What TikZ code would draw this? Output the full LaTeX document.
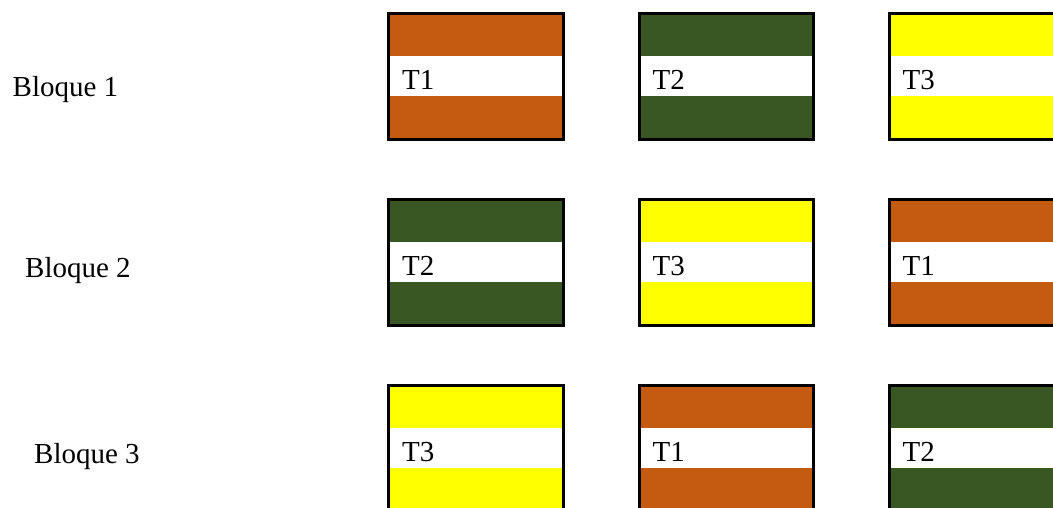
\documentclass[tikz,border=0pt]{standalone}
\usepackage{fontspec}
\setmainfont{Liberation Serif}
\definecolor{torange}{HTML}{C55A11}
\definecolor{tgreen}{HTML}{385723}
\definecolor{tyellow}{HTML}{FFFF00}
\tikzset{
  lbl/.style={anchor=base west, inner sep=0pt, font=\fontsize{29}{34}\selectfont},
  border/.style={draw=black, line width=3pt},
}
\newcommand{\tbox}[5]{%
  % #1 name, #2 left, #3 top, #4 colour, #5 label
  \fill[#4] (#2+1.5,#3+1.5) rectangle (#2+176,#3+127.5);
  \fill[white] (#2+3,#3+43.4) rectangle (#2+174.5,#3+83.4);
  \draw[border] (#2+1.5,#3+1.5) rectangle (#2+176,#3+127.5);
  \node[lbl] (#1) at (#2+15,#3+77) {#5};
}
\begin{document}
\begin{tikzpicture}[x=1pt,y=-1pt]
\useasboundingbox (0,0) rectangle (1053,507);
\clip (0,0) rectangle (1053,507);
\node[lbl] (b1) at (12.5,96) {Bloque 1};
\node[lbl] (b2) at (25,277.7) {Bloque 2};
\node[lbl] (b3) at (34,463.3) {Bloque 3};
\tbox{r1c1}{387}{12.3}{torange}{T1}
\tbox{r1c2}{637.5}{12.3}{tgreen}{T2}
\tbox{r1c3}{887.5}{12.3}{tyellow}{T3}
\tbox{r2c1}{387}{198.3}{tgreen}{T2}
\tbox{r2c2}{637.5}{198.3}{tyellow}{T3}
\tbox{r2c3}{887.5}{198.3}{torange}{T1}
\tbox{r3c1}{387}{384.3}{tyellow}{T3}
\tbox{r3c2}{637.5}{384.3}{torange}{T1}
\tbox{r3c3}{887.5}{384.3}{tgreen}{T2}
\end{tikzpicture}
\end{document}
